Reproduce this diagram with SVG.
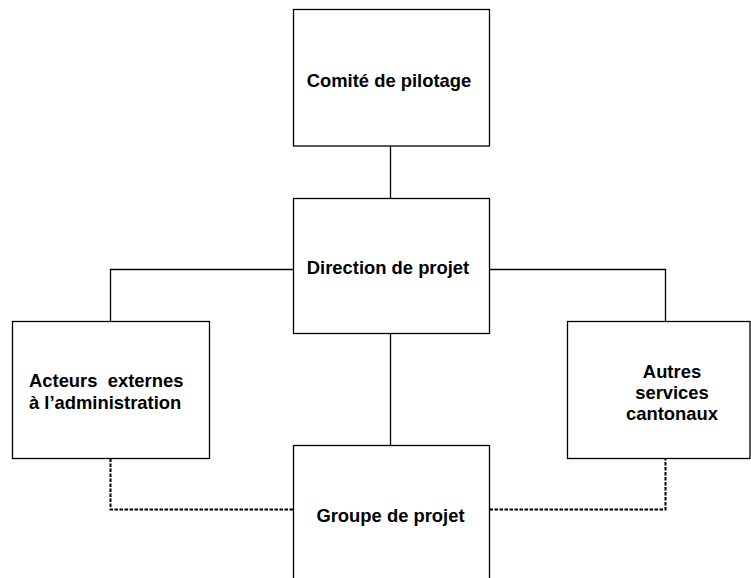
<svg xmlns="http://www.w3.org/2000/svg" width="751" height="578" viewBox="0 0 751 578">
<style>
.box{fill:#fff;stroke:#000;stroke-width:1.3}
.ln{fill:none;stroke:#000;stroke-width:1.3}
.dot{fill:none;stroke:#000;stroke-width:2;stroke-dasharray:3.5,1.5}
text{font-family:"Liberation Sans",Arial,sans-serif;font-weight:bold;font-size:18.4px;fill:#000}
.c{text-anchor:middle}
</style>
<rect width="751" height="578" fill="#fff"/>
<g id="connectors">
<path class="ln" d="M390.5 146 V198.5"/>
<path class="ln" d="M293.5 269.5 H110.5 V321.5"/>
<path class="ln" d="M489.5 269.5 H665.5 V321.5"/>
<path class="ln" d="M390.5 333.5 V445.5"/>
<path class="dot" d="M110.5 458.5 V509.5 H293.5"/>
<path class="dot" d="M489.5 509.5 H665.5 V458.5"/>
</g>
<g id="comite">
<rect class="box" x="293.5" y="9.5" width="196" height="136.5"/>
<text class="c" x="389" y="87">Comité de pilotage</text>
</g>
<g id="direction">
<rect class="box" x="293.5" y="198.5" width="196" height="135"/>
<text class="c" x="388" y="274">Direction de projet</text>
</g>
<g id="acteurs">
<rect class="box" x="12.5" y="321.5" width="197" height="137"/>
<text x="29" y="387" xml:space="preserve">Acteurs  externes</text>
<text x="29" y="409">à l’administration</text>
</g>
<g id="autres">
<rect class="box" x="567.5" y="321.5" width="182.5" height="137"/>
<text class="c" x="672" y="378">Autres</text>
<text class="c" x="672" y="399">services</text>
<text class="c" x="672" y="420">cantonaux</text>
</g>
<g id="groupe">
<rect class="box" x="293.5" y="445.5" width="196" height="200"/>
<text class="c" x="390.5" y="522">Groupe de projet</text>
</g>
</svg>
